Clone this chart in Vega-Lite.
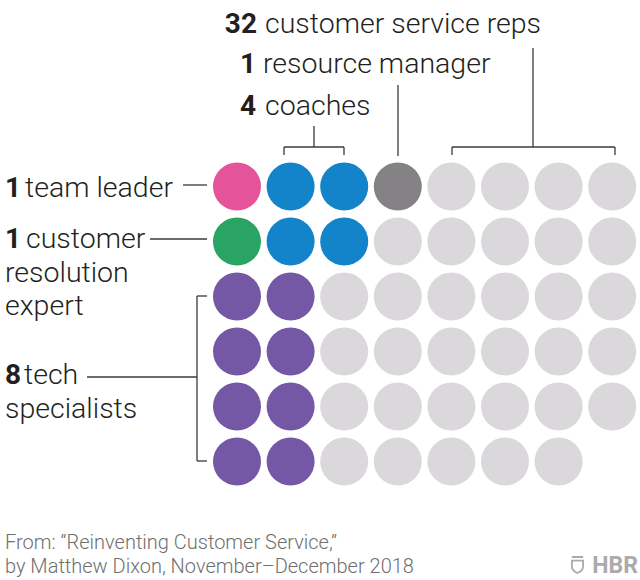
{
  "$schema": "https://vega.github.io/schema/vega-lite/v6.json",
  "width": 640,
  "height": 580,
  "autosize": {"type": "fit", "contains": "padding"},
  "padding": 0,
  "background": "white",
  "config": {"view": {"stroke": null}},
  "datasets": {
    "people": [
      {"col": 0, "row": 0, "role": "team leader"},
      {"col": 1, "row": 0, "role": "coach"},
      {"col": 2, "row": 0, "role": "coach"},
      {"col": 3, "row": 0, "role": "resource manager"},
      {"col": 4, "row": 0, "role": "customer service rep"},
      {"col": 5, "row": 0, "role": "customer service rep"},
      {"col": 6, "row": 0, "role": "customer service rep"},
      {"col": 7, "row": 0, "role": "customer service rep"},
      {"col": 0, "row": 1, "role": "customer resolution expert"},
      {"col": 1, "row": 1, "role": "coach"},
      {"col": 2, "row": 1, "role": "coach"},
      {"col": 3, "row": 1, "role": "customer service rep"},
      {"col": 4, "row": 1, "role": "customer service rep"},
      {"col": 5, "row": 1, "role": "customer service rep"},
      {"col": 6, "row": 1, "role": "customer service rep"},
      {"col": 7, "row": 1, "role": "customer service rep"},
      {"col": 0, "row": 2, "role": "tech specialist"},
      {"col": 1, "row": 2, "role": "tech specialist"},
      {"col": 2, "row": 2, "role": "customer service rep"},
      {"col": 3, "row": 2, "role": "customer service rep"},
      {"col": 4, "row": 2, "role": "customer service rep"},
      {"col": 5, "row": 2, "role": "customer service rep"},
      {"col": 6, "row": 2, "role": "customer service rep"},
      {"col": 7, "row": 2, "role": "customer service rep"},
      {"col": 0, "row": 3, "role": "tech specialist"},
      {"col": 1, "row": 3, "role": "tech specialist"},
      {"col": 2, "row": 3, "role": "customer service rep"},
      {"col": 3, "row": 3, "role": "customer service rep"},
      {"col": 4, "row": 3, "role": "customer service rep"},
      {"col": 5, "row": 3, "role": "customer service rep"},
      {"col": 6, "row": 3, "role": "customer service rep"},
      {"col": 7, "row": 3, "role": "customer service rep"},
      {"col": 0, "row": 4, "role": "tech specialist"},
      {"col": 1, "row": 4, "role": "tech specialist"},
      {"col": 2, "row": 4, "role": "customer service rep"},
      {"col": 3, "row": 4, "role": "customer service rep"},
      {"col": 4, "row": 4, "role": "customer service rep"},
      {"col": 5, "row": 4, "role": "customer service rep"},
      {"col": 6, "row": 4, "role": "customer service rep"},
      {"col": 7, "row": 4, "role": "customer service rep"},
      {"col": 0, "row": 5, "role": "tech specialist"},
      {"col": 1, "row": 5, "role": "tech specialist"},
      {"col": 2, "row": 5, "role": "customer service rep"},
      {"col": 3, "row": 5, "role": "customer service rep"},
      {"col": 4, "row": 5, "role": "customer service rep"},
      {"col": 5, "row": 5, "role": "customer service rep"},
      {"col": 6, "row": 5, "role": "customer service rep"}
    ],
    "lines": [
      {"x": 1.4366, "x2": 1.4366, "y": -1.1, "y2": -0.7182},
      {"x": 0.8769, "x2": 1.9963, "y": -0.7182, "y2": -0.7182},
      {"x": 0.8769, "x2": 0.8769, "y": -0.7182, "y2": -0.5727},
      {"x": 1.9963, "x2": 1.9963, "y": -0.7182, "y2": -0.5727},
      {"x": 3.0037, "x2": 3.0037, "y": -1.8455, "y2": -0.5545},
      {"x": 5.5224, "x2": 5.5224, "y": -2.5182, "y2": -0.7182},
      {"x": 4.0112, "x2": 7.0522, "y": -0.7182, "y2": -0.7182},
      {"x": 4.0112, "x2": 4.0112, "y": -0.7182, "y2": -0.5727},
      {"x": 7.0522, "x2": 7.0522, "y": -0.7182, "y2": -0.5727},
      {"x": -1.0075, "x2": -0.5597, "y": -0.0273, "y2": -0.0273},
      {"x": -1.6231, "x2": -0.5597, "y": 0.9545, "y2": 0.9545},
      {"x": -0.7463, "x2": -0.7463, "y": 1.9909, "y2": 4.9909},
      {"x": -0.7463, "x2": -0.5597, "y": 1.9909, "y2": 1.9909},
      {"x": -0.7463, "x2": -0.5597, "y": 4.9909, "y2": 4.9909},
      {"x": -2.7985, "x2": -0.7463, "y": 3.4636, "y2": 3.4636}
    ],
    "countsTop": [
      {"x": 0.3731, "y": -2.7909, "text": "32"},
      {"x": 0.3545, "y": -2.0636, "text": "1"},
      {"x": 0.3545, "y": -1.3, "text": "4"}
    ],
    "countsLeft": [
      {"x": -4.3284, "y": 0.1909, "text": "1"},
      {"x": -4.3284, "y": 1.1182, "text": "1"},
      {"x": -4.3284, "y": 3.5909, "text": "8"}
    ],
    "labels": [
      {"x": 0.5224, "y": -2.7909, "text": "customer service reps"},
      {"x": 0.4851, "y": -2.0636, "text": "resource manager"},
      {"x": 0.5224, "y": -1.3, "text": "coaches"},
      {"x": -3.9552, "y": 0.1909, "text": "team leader"},
      {"x": -3.9366, "y": 1.1182, "text": "customer"},
      {"x": -4.3284, "y": 1.7364, "text": "resolution"},
      {"x": -4.3284, "y": 2.3364, "text": "expert"},
      {"x": -3.9739, "y": 3.5909, "text": "tech"},
      {"x": -4.3284, "y": 4.2091, "text": "specialists"}
    ],
    "footer": [
      {"x": -4.3284, "y": 6.5909, "text": "From: “Reinventing Customer Service,”"},
      {"x": -4.3284, "y": 7.0273, "text": "by Matthew Dixon, November–December 2018"}
    ],
    "brand": [
      {"x": 7.4813, "y": 7.0273, "text": "HBR"}
    ],
    "shield": [
      {"x": 6.3526, "y": 6.8818}
    ]
  },
  "layer": [
    {
      "data": {"name": "people"},
      "mark": {"type": "circle", "size": 2304, "opacity": 1},
      "encoding": {
        "x": {"field": "col", "type": "quantitative", "axis": null, "scale": {"domain": [-4.4216, 7.5187], "nice": false, "zero": false}},
        "y": {"field": "row", "type": "quantitative", "axis": null, "scale": {"domain": [-3.3909, 7.1545], "nice": false, "zero": false, "reverse": true}},
        "color": {
          "field": "role", "type": "nominal", "legend": null,
          "scale": {
            "domain": ["team leader", "coach", "resource manager", "customer service rep", "customer resolution expert", "tech specialist"],
            "range": ["#E5539B", "#1383CA", "#858285", "#DAD8DB", "#29A462", "#7458A6"]
          }
        }
      }
    },
    {
      "data": {"name": "lines"},
      "mark": {"type": "rule", "color": "#3a3a3a", "strokeWidth": 1.3},
      "encoding": {
        "x": {"field": "x", "type": "quantitative", "axis": null, "scale": {"domain": [-4.4216, 7.5187], "nice": false, "zero": false}},
        "x2": {"field": "x2"},
        "y": {"field": "y", "type": "quantitative", "axis": null, "scale": {"domain": [-3.3909, 7.1545], "nice": false, "zero": false, "reverse": true}},
        "y2": {"field": "y2"}
      }
    },
    {
      "data": {"name": "countsTop"},
      "mark": {"type": "text", "font": "Roboto", "fontSize": 28, "fontWeight": "bold", "align": "right", "baseline": "alphabetic", "color": "#231F20"},
      "encoding": {
        "x": {"field": "x", "type": "quantitative", "axis": null, "scale": {"domain": [-4.4216, 7.5187], "nice": false, "zero": false}},
        "y": {"field": "y", "type": "quantitative", "axis": null, "scale": {"domain": [-3.3909, 7.1545], "nice": false, "zero": false, "reverse": true}},
        "text": {"field": "text"}
      }
    },
    {
      "data": {"name": "countsLeft"},
      "mark": {"type": "text", "font": "Roboto", "fontSize": 28, "fontWeight": "bold", "align": "left", "baseline": "alphabetic", "color": "#231F20"},
      "encoding": {
        "x": {"field": "x", "type": "quantitative", "axis": null, "scale": {"domain": [-4.4216, 7.5187], "nice": false, "zero": false}},
        "y": {"field": "y", "type": "quantitative", "axis": null, "scale": {"domain": [-3.3909, 7.1545], "nice": false, "zero": false, "reverse": true}},
        "text": {"field": "text"}
      }
    },
    {
      "data": {"name": "labels"},
      "mark": {"type": "text", "font": "Roboto", "fontSize": 28.5, "fontWeight": 300, "align": "left", "baseline": "alphabetic", "color": "#231F20"},
      "encoding": {
        "x": {"field": "x", "type": "quantitative", "axis": null, "scale": {"domain": [-4.4216, 7.5187], "nice": false, "zero": false}},
        "y": {"field": "y", "type": "quantitative", "axis": null, "scale": {"domain": [-3.3909, 7.1545], "nice": false, "zero": false, "reverse": true}},
        "text": {"field": "text"}
      }
    },
    {
      "data": {"name": "footer"},
      "mark": {"type": "text", "font": "Roboto", "fontSize": 20, "fontWeight": 300, "baseline": "alphabetic", "align": "left", "color": "#6f6f6f"},
      "encoding": {
        "x": {"field": "x", "type": "quantitative", "axis": null, "scale": {"domain": [-4.4216, 7.5187], "nice": false, "zero": false}},
        "y": {"field": "y", "type": "quantitative", "axis": null, "scale": {"domain": [-3.3909, 7.1545], "nice": false, "zero": false, "reverse": true}},
        "text": {"field": "text"}
      }
    },
    {
      "data": {"name": "brand"},
      "mark": {"type": "text", "font": "Roboto", "fontSize": 23, "fontWeight": "bold", "baseline": "alphabetic", "align": "right", "color": "#ababab"},
      "encoding": {
        "x": {"field": "x", "type": "quantitative", "axis": null, "scale": {"domain": [-4.4216, 7.5187], "nice": false, "zero": false}},
        "y": {"field": "y", "type": "quantitative", "axis": null, "scale": {"domain": [-3.3909, 7.1545], "nice": false, "zero": false, "reverse": true}},
        "text": {"field": "text"}
      }
    },
    {
      "data": {"name": "shield"},
      "mark": {"type": "point", "shape": "M -0.7 -1 L 0.7 -1 M -0.7 -0.55 L 0.7 -0.55 L 0.7 0.15 Q 0.7 0.7 0 1 Q -0.7 0.7 -0.7 0.15 Z", "size": 256, "filled": false, "stroke": "#ababab", "strokeWidth": 1.8, "opacity": 1},
      "encoding": {
        "x": {"field": "x", "type": "quantitative", "axis": null, "scale": {"domain": [-4.4216, 7.5187], "nice": false, "zero": false}},
        "y": {"field": "y", "type": "quantitative", "axis": null, "scale": {"domain": [-3.3909, 7.1545], "nice": false, "zero": false, "reverse": true}}
      }
    }
  ]
}
